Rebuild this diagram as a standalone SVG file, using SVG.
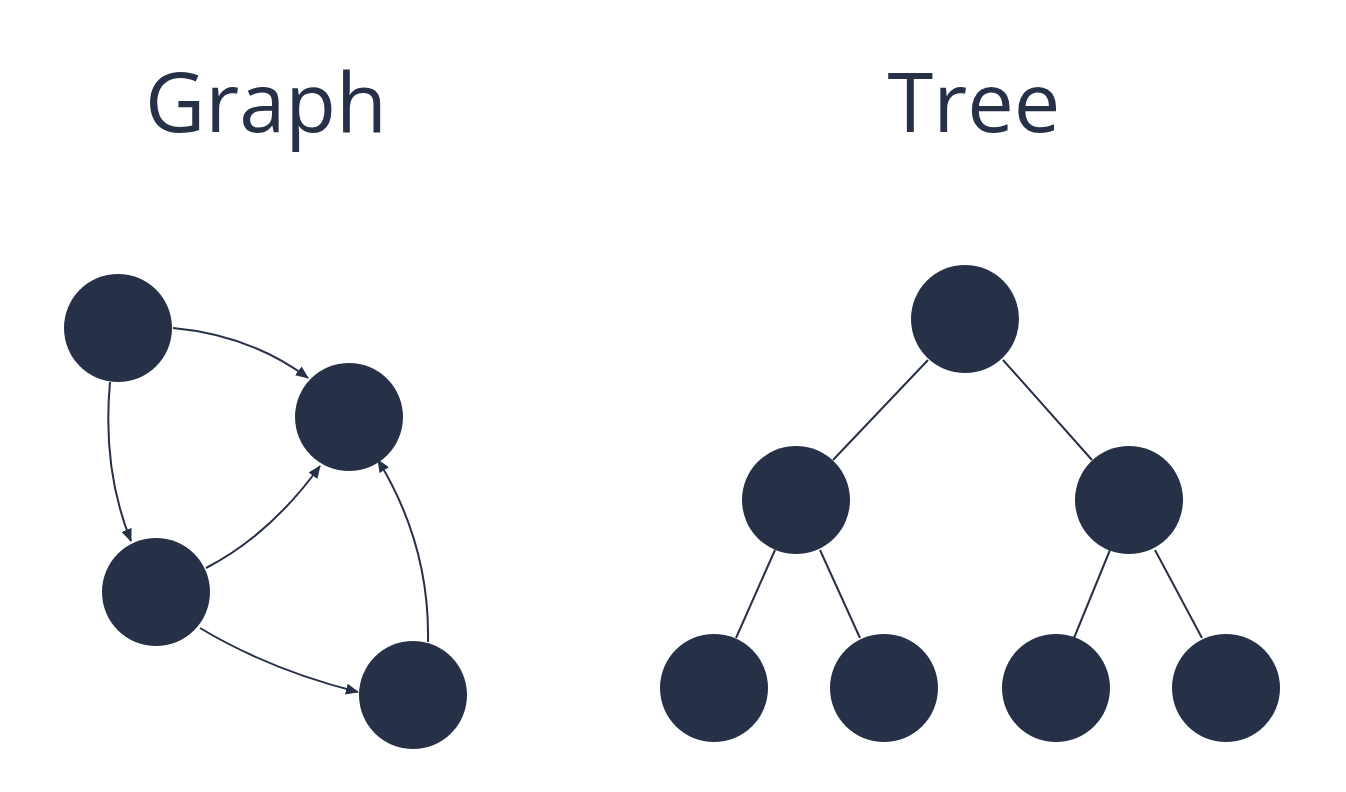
<svg xmlns="http://www.w3.org/2000/svg" width="1346" height="792" viewBox="0 0 1346 792">
<style>
.title{font-family:"Open Sans","Liberation Sans",sans-serif;font-size:83px;fill:#263046}
.node{fill:#263047}
.edge{fill:none;stroke:#263047;stroke-width:2}
</style>
<defs>
<marker id="arr" viewBox="0 0 13 11" refX="12" refY="5.5" markerWidth="13" markerHeight="11" markerUnits="userSpaceOnUse" orient="auto">
<path d="M0,0 L13,5.5 L0,11 z" fill="#263047"/>
</marker>
</defs>
<rect width="1346" height="792" fill="#ffffff"/>
<text class="title" x="266" y="132" text-anchor="middle">Graph</text>
<text class="title" x="974" y="132" text-anchor="middle">Tree</text>
<g id="edges">
<path class="edge" marker-end="url(#arr)" d="M173,328 Q250,335 308,378"/>
<path class="edge" marker-end="url(#arr)" d="M110,382 Q102,470 131,541"/>
<path class="edge" marker-end="url(#arr)" d="M206,568 Q270,535 320,466"/>
<path class="edge" marker-end="url(#arr)" d="M200,628 Q270,670 358,692"/>
<path class="edge" marker-end="url(#arr)" d="M428,642 Q430,545 378,460"/>
<path class="edge" d="M928,360 L833,460"/>
<path class="edge" d="M1003,360 L1092,460"/>
<path class="edge" d="M775,550 L736,638"/>
<path class="edge" d="M820,550 L860,638"/>
<path class="edge" d="M1110,550 L1074,638"/>
<path class="edge" d="M1155,550 L1202,638"/>
</g>
<g id="gA"><circle class="node" cx="118" cy="328" r="54"/></g>
<g id="gB"><circle class="node" cx="349" cy="417" r="54"/></g>
<g id="gC"><circle class="node" cx="156" cy="592" r="54"/></g>
<g id="gD"><circle class="node" cx="413" cy="695" r="54"/></g>
<g id="tRoot"><circle class="node" cx="965" cy="319" r="54"/></g>
<g id="tL"><circle class="node" cx="796" cy="500" r="54"/></g>
<g id="tR"><circle class="node" cx="1129" cy="500" r="54"/></g>
<g id="tLL"><circle class="node" cx="714" cy="688" r="54"/></g>
<g id="tLR"><circle class="node" cx="884" cy="688" r="54"/></g>
<g id="tRL"><circle class="node" cx="1056" cy="688" r="54"/></g>
<g id="tRR"><circle class="node" cx="1226" cy="688" r="54"/></g>
</svg>
